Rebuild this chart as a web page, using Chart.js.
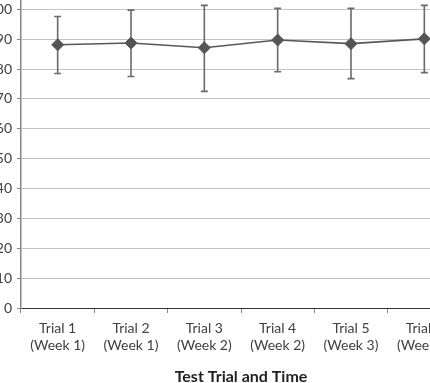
<!DOCTYPE html>
<html><head><meta charset="utf-8">
<script src="https://cdn.jsdelivr.net/npm/chart.js@4/dist/chart.umd.min.js"></script>
<style>
html,body{margin:0;padding:0;background:#fff;overflow:hidden;width:430px;height:383px;}
#wrap{position:absolute;left:-19px;top:-34px;width:500px;height:420px;}
</style></head>
<body>
<div id="wrap"><canvas id="c"></canvas></div>
<script>
const categories = [["Trial 1","(Week 1)"],["Trial 2","(Week 1)"],["Trial 3","(Week 2)"],["Trial 4","(Week 2)"],["Trial 5","(Week 3)"],["Trial 6","(Week 3)"]];
const means = [88.1, 88.7, 87.1, 89.7, 88.5, 90.1];
const errHigh = [97.6, 99.7, 101.3, 100.3, 100.3, 101.3];
const errLow = [78.5, 77.5, 72.5, 79.1, 76.8, 78.8];
const yTicks = [0,10,20,30,40,50,60,70,80,90,100,110];
const xTitle = "Test Trial and Time";

const errorBars = {
  id:'errorBars',
  beforeDatasetsDraw(chart){
    const {ctx, scales:{x,y}} = chart;
    ctx.save();
    ctx.strokeStyle = '#6a6a6a';
    ctx.lineWidth = 1.6;
    for(let i=0;i<means.length;i++){
      const px = x.getPixelForValue(i);
      const hi = y.getPixelForValue(errHigh[i]);
      const lo = y.getPixelForValue(errLow[i]);
      ctx.beginPath();
      ctx.moveTo(px,hi); ctx.lineTo(px,lo);
      ctx.moveTo(px-3.5,hi); ctx.lineTo(px+3.5,hi);
      ctx.moveTo(px-3.5,lo); ctx.lineTo(px+3.5,lo);
      ctx.stroke();
    }
    ctx.restore();
  }
};

new Chart(document.getElementById('c'),{
  type:'line',
  data:{labels:categories,datasets:[{data:means,borderColor:'#585858',borderWidth:1.6,
    pointStyle:'rectRot',pointRadius:6,pointBackgroundColor:'#555555',pointBorderColor:'#555555',pointBorderWidth:1,tension:0}]},
  options:{
    responsive:true,maintainAspectRatio:false,animation:false,
    layout:{padding:{top:10,right:20,left:0,bottom:0}},
    plugins:{legend:{display:false},tooltip:{enabled:false}},
    scales:{
      x:{offset:true,
        grid:{drawOnChartArea:false,drawTicks:true,tickLength:5,offset:true,color:'#868686'},
        border:{color:'#333333',width:1},
        ticks:{color:'#404040',font:{family:'Lato',size:14,lineHeight:1.2},padding:7,maxRotation:0,autoSkip:false},
        title:{display:true,text:xTitle,color:'#222222',font:{family:'Lato',size:16,weight:'bold'},padding:{top:12,bottom:0}},
        afterFit(s){s.height=78;}
      },
      y:{min:0,max:110,
        afterBuildTicks(s){s.ticks=yTicks.map(v=>({value:v}));},
        afterFit(s){s.width=40;},
        grid:{color:'#c4c4c4',lineWidth:1,tickLength:4,drawTicks:true,tickColor:'#868686'},
        border:{color:'#868686',width:1.5},
        ticks:{color:'#404040',font:{family:'Lato',size:14},padding:5}
      }
    }
  },
  plugins:[errorBars]
});
</script>
</body></html>
